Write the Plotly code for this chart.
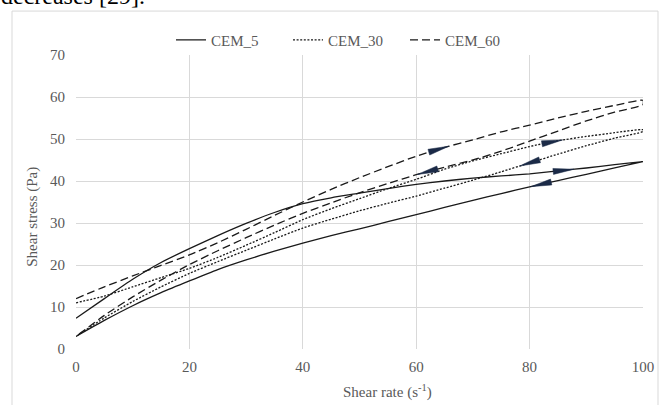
import numpy as np
import plotly.graph_objects as go

# ---- data ----
shear_rate = [0, 5, 10, 15, 20, 25, 30, 35, 40, 45, 50, 55, 60, 65, 70, 75, 80, 85, 90, 95, 100]

cem5_up = [7.3, 12.0, 16.6, 20.6, 23.9, 27.0, 29.9, 32.5, 34.6, 36.0, 37.1, 38.2, 39.2, 40.0, 40.7, 41.2, 41.7, 42.4, 43.1, 43.9, 44.6]
cem5_down = [3.0, 6.8, 10.3, 13.4, 16.2, 18.9, 21.2, 23.3, 25.2, 27.0, 28.6, 30.3, 32.0, 33.7, 35.4, 37.0, 38.6, 40.1, 41.6, 43.1, 44.6]

cem30_up = [11.0, 12.6, 14.8, 17.0, 19.2, 21.8, 24.7, 27.7, 30.8, 33.4, 35.8, 38.2, 40.4, 42.8, 44.8, 46.5, 48.2, 49.6, 50.6, 51.5, 52.2]
cem30_down = [3.0, 7.4, 11.3, 14.8, 18.0, 20.8, 23.5, 26.2, 28.8, 30.9, 32.9, 34.7, 36.4, 38.3, 40.2, 42.2, 44.3, 46.4, 48.4, 50.2, 51.8]

cem60_up = [12.0, 14.8, 17.4, 19.9, 22.4, 25.3, 28.5, 31.8, 35.0, 38.0, 40.8, 43.4, 45.9, 48.0, 49.8, 51.7, 53.3, 55.0, 56.6, 58.0, 59.2]
cem60_down = [3.0, 8.0, 12.4, 16.4, 20.1, 23.4, 26.5, 29.5, 32.3, 34.8, 37.2, 39.4, 41.5, 43.3, 45.0, 47.1, 49.5, 51.9, 54.3, 56.4, 58.2]

series_names = ["CEM_5", "CEM_30", "CEM_60"]
x_ticks = [0, 20, 40, 60, 80, 100]
y_ticks = [0, 10, 20, 30, 40, 50, 60, 70]

# ---- style ----
W, H = 665, 405
ML, MR, MT, MB = 76, 22, 55, 55.5
XR, YR = (0, 100), (0, 70)
PW, PH = W - ML - MR, H - MT - MB
FONT = "Liberation Serif"
TXT_COL = "#595959"
LINE_COL = "#1a1a1a"
ARROW_COL = "#1b2a47"
GRID_COL = "#d9d9d9"
dashes = ["solid", "2px,1.6px", "8px,4px"]
arrow_at = [(86, 82), (84, 80), (64, 62)]


def px_x(p):
    return (p - ML) / PW


def px_y(p):
    return ((H - MB) - p) / PH


sx = PW / (XR[1] - XR[0])
sy = PH / (YR[1] - YR[0])

fig = go.Figure()

branches = [(cem5_up, cem5_down), (cem30_up, cem30_down), (cem60_up, cem60_down)]
xs = np.array(shear_rate, dtype=float)


def arrow_poly(xb, yb, xa, direction, L=21, Wd=6):
    ya = np.interp(xa, xb, yb)
    slope = np.interp(xa, xb, np.gradient(np.array(yb, float), xb))
    vx, vy = sx * 1.0, sy * slope
    n = np.hypot(vx, vy)
    ux, uy = direction * vx / n, direction * vy / n
    tipx, tipy = L / 2 * ux, L / 2 * uy
    bx, by = -L / 2 * ux, -L / 2 * uy
    nx, ny = -uy, ux
    pts = [(tipx, tipy), (bx + Wd / 2 * nx, by + Wd / 2 * ny), (bx - Wd / 2 * nx, by - Wd / 2 * ny), (tipx, tipy)]
    return [xa + p[0] / sx for p in pts], [ya + p[1] / sy for p in pts]


for name, (up, down), dash, (a_up, a_dn) in zip(series_names, branches, dashes, arrow_at):
    fig.add_trace(go.Scatter(
        x=list(xs) + list(xs[::-1]), y=list(up) + list(down[::-1]),
        mode="lines", name=name,
        line=dict(color=LINE_COL, width=1.3, dash=dash, shape="spline", smoothing=0.6),
    ))
    for xa, yb, d in [(a_up, up, 1), (a_dn, down, -1)]:
        ax_, ay_ = arrow_poly(xs, yb, xa, d)
        fig.add_trace(go.Scatter(x=ax_, y=ay_, mode="lines", fill="toself",
                                 fillcolor=ARROW_COL, line=dict(color=ARROW_COL, width=0.5),
                                 showlegend=False, hoverinfo="skip"))

axis_common = dict(showgrid=True, gridcolor=GRID_COL, gridwidth=1, zeroline=False,
                   showline=False, ticks="", tickfont=dict(family=FONT, size=15, color=TXT_COL))

fig.update_layout(
    width=W, height=H, autosize=False,
    margin=dict(l=ML, r=MR, t=MT, b=MB, pad=0),
    paper_bgcolor="white", plot_bgcolor="white",
    font=dict(family=FONT, size=15, color=TXT_COL),
    xaxis=dict(range=list(XR), tickvals=x_ticks, ticklabelstandoff=7, **axis_common),
    yaxis=dict(range=list(YR), tickvals=y_ticks, ticklabelstandoff=10, **axis_common),
    showlegend=True,
    legend=dict(orientation="h", x=px_x(171), xanchor="left", y=px_y(40), yanchor="middle",
                font=dict(family=FONT, size=15, color=TXT_COL), itemwidth=30,
                entrywidth=72, entrywidthmode="pixels",
                bgcolor="rgba(0,0,0,0)", traceorder="normal"),
    annotations=[
        dict(text="Shear rate (s<sup>-1</sup>)", xref="paper", yref="paper",
             x=px_x(387), y=px_y(392), xanchor="center", yanchor="middle", showarrow=False,
             font=dict(family=FONT, size=15, color=TXT_COL)),
        dict(text="Shear stress (Pa)", xref="paper", yref="paper",
             x=px_x(33), y=px_y(217), xanchor="center", yanchor="middle", textangle=-90,
             showarrow=False, font=dict(family=FONT, size=15, color=TXT_COL)),
        dict(text="decreases [29].", xref="paper", yref="paper",
             x=px_x(-1), y=px_y(11), xanchor="left", yanchor="bottom", showarrow=False,
             font=dict(family=FONT, size=24, color="black")),
    ],
    shapes=[
        dict(type="rect", xref="paper", yref="paper",
             x0=px_x(12), x1=px_x(658), y0=px_y(420), y1=px_y(11),
             line=dict(color=GRID_COL, width=1), fillcolor="rgba(0,0,0,0)", layer="below"),
    ],
)

fig.write_html("out.html", config={"displayModeBar": False},
               post_script="document.body.style.margin='0px';document.body.style.overflow='hidden';")
